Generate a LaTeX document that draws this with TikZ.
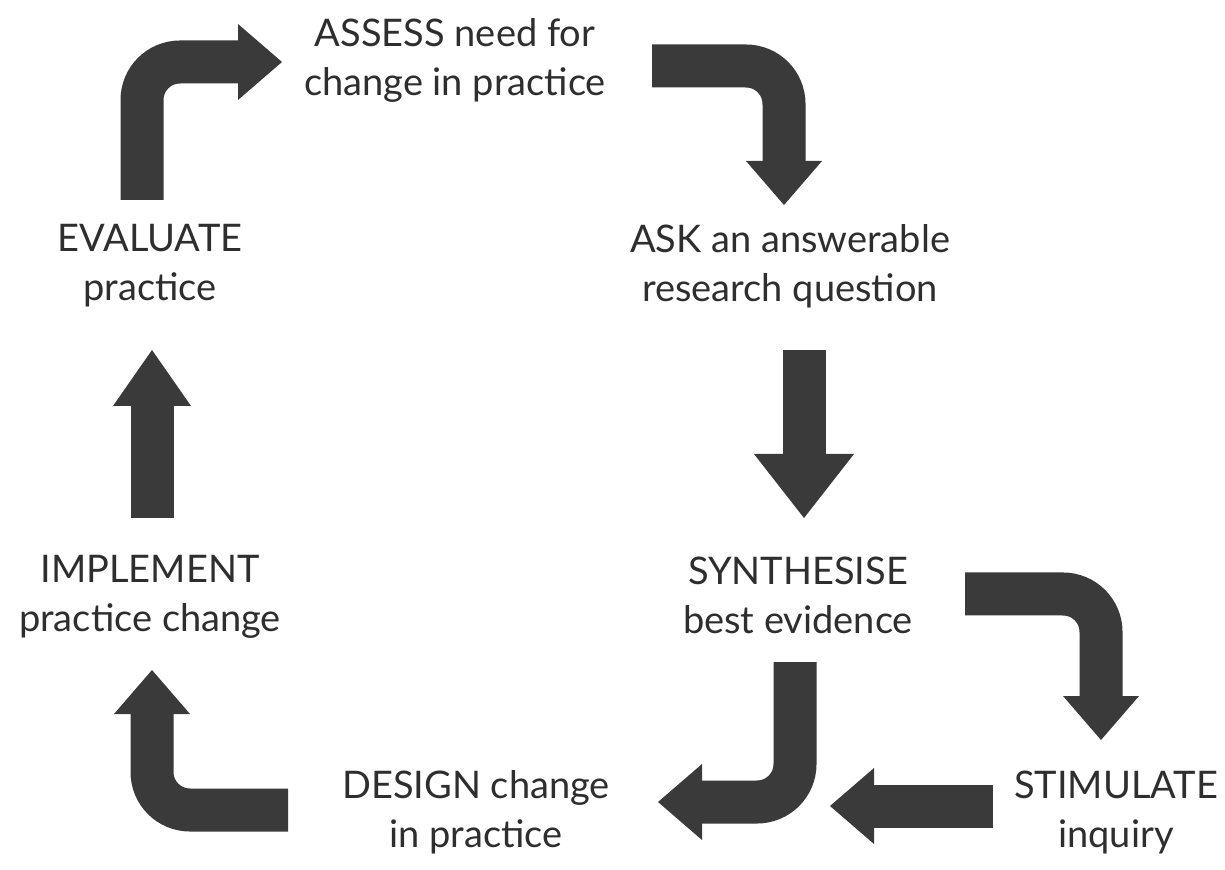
\documentclass[tikz,border=0pt]{standalone}
\usepackage{fontspec}
\setmainfont{Lato}
\usetikzlibrary{arrows.meta}
\definecolor{arrowgray}{HTML}{3A3A3A}
\definecolor{textgray}{HTML}{2E2E2E}
\tikzset{
  lbl/.style={align=center, inner sep=0pt, text=textgray,
    font=\fontsize{19}{24.5}\selectfont},
  bigarrow/.style={draw=arrowgray, line width=21.5pt, rounded corners=19pt,
    -{Triangle[width=38pt,length=22pt,line width=0pt]}},
  wideHead/.style={-{Triangle[width=50pt,length=32pt,line width=0pt]}},
  longHead/.style={-{Triangle[width=39pt,length=28pt,line width=0pt]}}
}
\begin{document}
\begin{tikzpicture}[x=0.5pt,y=-0.5pt]
\useasboundingbox[fill=white] (0,0) rectangle (1225,870);
% labels
\node[lbl] (assess) at (455,60) {ASSESS need for\\change in practice};
\node[lbl] (ask) at (790,266) {ASK an answerable\\research question};
\node[lbl] (evaluate) at (150,266) {EVALUATE\\practice};
\node[lbl] (implement) at (150,597) {IMPLEMENT\\practice change};
\node[lbl] (synth) at (798,595) {SYNTHESISE\\best evidence};
\node[lbl] (design) at (476,812) {DESIGN change\\in practice};
\node[lbl] (stim) at (1116,812) {STIMULATE\\inquiry};
% arrow end points
\coordinate (a1) at (142,200); \coordinate (a2) at (142,62); \coordinate (a3) at (282,62);
\coordinate (b1) at (652,66); \coordinate (b2) at (784,66); \coordinate (b3) at (784,205);
\coordinate (c1) at (804,350); \coordinate (c2) at (804,518);
\coordinate (d1) at (965,594); \coordinate (d2) at (1101,594); \coordinate (d3) at (1101,740);
\coordinate (e1) at (795,662); \coordinate (e2) at (795,802); \coordinate (e3) at (658,802);
\coordinate (f1) at (993,806); \coordinate (f2) at (830,806);
\coordinate (g1) at (288,810); \coordinate (g2) at (152,810); \coordinate (g3) at (152,670);
\coordinate (h1) at (152,518); \coordinate (h2) at (152,350);
% arrows
\draw[bigarrow] (a1) -- (a2) -- (a3);
\draw[bigarrow] (b1) -- (b2) -- (b3);
\draw[bigarrow,wideHead] (c1) -- (c2);
\draw[bigarrow] (d1) -- (d2) -- (d3);
\draw[bigarrow] (e1) -- (e2) -- (e3);
\draw[bigarrow] (f1) -- (f2);
\draw[bigarrow] (g1) -- (g2) -- (g3);
\draw[bigarrow,longHead] (h1) -- (h2);
\end{tikzpicture}
\end{document}
